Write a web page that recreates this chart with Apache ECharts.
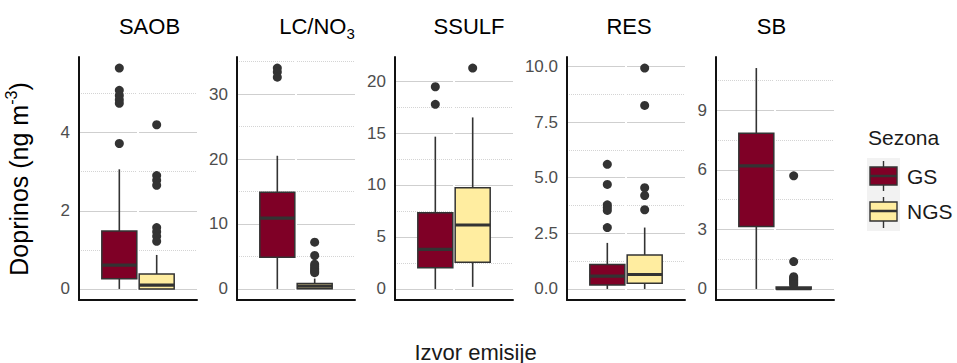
<!DOCTYPE html>
<html><head><meta charset="utf-8">
<script src="https://cdn.jsdelivr.net/npm/echarts@6/dist/echarts.min.js"></script>
<style>html,body{margin:0;padding:0;background:#fff}#c{width:957px;height:363px}</style>
</head><body><div id="c"></div>
<script>
// ---- data ----
const sources = ['SAOB', 'LC/NO3', 'SSULF', 'RES', 'SB'];
const seasons = ['GS', 'NGS'];
// [lower whisker, Q1, median, Q3, upper whisker]
const gsBox = [
  [0, 0.26, 0.61, 1.48, 3.06],
  [0, 4.87, 10.9, 14.9, 20.5],
  [0, 2.05, 3.8, 7.34, 14.65],
  [0, 0.18, 0.58, 1.1, 2.07],
  [0, 3.15, 6.2, 7.84, 11.13]
];
const ngsBox = [
  [0, 0.0, 0.1, 0.38, 0.87],
  [0, 0.05, 0.45, 0.85, 1.6],
  [0.2, 2.57, 6.15, 9.74, 16.5],
  [0, 0.26, 0.65, 1.53, 2.76],
  [0, 0, 0.02, 0.1, 0.15]
];
const gsOutliers = [
  [5.65, 5.08, 4.95, 4.84, 4.75, 3.72],
  [34.0, 33.4, 32.6],
  [19.45, 17.76],
  [5.6, 4.7, 3.78, 3.66, 3.53, 2.76],
  []
];
const ngsOutliers = [
  [4.2, 2.9, 2.78, 2.65, 1.57, 1.46, 1.35, 1.22],
  [7.2, 5.15, 3.8, 3.5, 3.2, 2.95, 2.7, 2.5],
  [21.25],
  [9.93, 8.25, 4.55, 4.2, 3.56],
  [5.7, 1.38, 0.62, 0.55, 0.48, 0.41, 0.34, 0.27, 0.2]
];
const majorTicks = [[0, 2, 4], [0, 10, 20, 30], [0, 5, 10, 15, 20], [0, 2.5, 5, 7.5, 10], [0, 3, 6, 9]];
const minorTicks = [[1, 3, 5], [5, 15, 25, 35], [2.5, 7.5, 12.5, 17.5], [1.25, 3.75, 6.25, 8.75], [1.5, 4.5, 7.5, 10.5]];
const tickDecimals = [0, 0, 0, 1, 0];

// ---- style / layout ----
const FONT = 'Liberation Sans, Arial, Helvetica, sans-serif';
const fills = ['#7F0026', '#FFEDA0'];
const lefts = [79, 237, 395, 567, 716];
const PW = 118, TOP = 57, PH = 243;
const XPOS = [0.41, 0.79];   // dodge positions on a 0..1.2 panel axis
const BOX_W = 0.356;

const chart = echarts.init(document.getElementById('c'), null, {renderer: 'svg'});

const grid = [], xAxis = [], yAxis = [], series = [];
sources.forEach((src, i) => {
  const allMax = Math.max(...gsBox[i], ...ngsBox[i], ...gsOutliers[i], ...ngsOutliers[i]);
  const allMin = 0;
  const pad = (allMax - allMin) * 0.05;
  const yMin = allMin - pad, yMax = allMax + pad;
  grid.push({left: lefts[i], top: TOP, width: PW, height: PH, containLabel: false});
  xAxis.push({
    type: 'value', gridIndex: i, min: 0, max: 1.2, interval: 0.6, z: 3,
    axisLine: {show: true, onZero: false, lineStyle: {color: '#111', width: 2}},
    axisTick: {show: false}, axisLabel: {show: false},
    splitLine: {show: true, showMinLine: false, showMaxLine: false, lineStyle: {color: '#ffffff', width: 2}}
  });
  const dec = tickDecimals[i];
  yAxis.push({
    type: 'value', gridIndex: i, min: yMin, max: yMax, z: 2,
    axisLine: {show: true, onZero: false, lineStyle: {color: '#111', width: 2}},
    axisTick: {show: false, customValues: majorTicks[i]},
    axisLabel: {customValues: majorTicks[i], color: '#4D4D4D', fontSize: 17, fontFamily: FONT, margin: 9,
      formatter: v => Number(v).toFixed(dec)},
    splitLine: {show: true, lineStyle: {color: '#cfcfcf', width: 1.2}}
  });
  yAxis.push({
    type: 'value', gridIndex: i, min: yMin, max: yMax, z: 1,
    axisLine: {show: false}, axisLabel: {show: false},
    axisTick: {show: false, customValues: minorTicks[i]},
    splitLine: {show: true, lineStyle: {color: '#d4d4d4', width: 1, type: 'dotted'}}
  });
  const boxes = [gsBox[i], ngsBox[i]].map((b, s) => [XPOS[s], ...b, s]);
  series.push({
    type: 'custom', name: src, xAxisIndex: i, yAxisIndex: 2 * i, z: 5,
    data: boxes,
    renderItem: (params, api) => {
      const x = api.value(0);
      const pLo = api.coord([x, api.value(1)]);
      const pQ1 = api.coord([x, api.value(2)]);
      const pMed = api.coord([x, api.value(3)]);
      const pQ3 = api.coord([x, api.value(4)]);
      const pHi = api.coord([x, api.value(5)]);
      const hw = api.size([BOX_W, 0])[0] / 2;
      const fill = fills[api.value(6)];
      const ls = {stroke: '#333333', lineWidth: 1.6};
      return {type: 'group', children: [
        {type: 'line', shape: {x1: pHi[0], y1: pHi[1], x2: pQ3[0], y2: pQ3[1]}, style: ls},
        {type: 'line', shape: {x1: pLo[0], y1: pLo[1], x2: pQ1[0], y2: pQ1[1]}, style: ls},
        {type: 'rect', shape: {x: pQ1[0] - hw, y: pQ3[1], width: 2 * hw, height: pQ1[1] - pQ3[1]},
          style: {fill: fill, stroke: '#333333', lineWidth: 1.5}},
        {type: 'line', shape: {x1: pMed[0] - hw, y1: pMed[1], x2: pMed[0] + hw, y2: pMed[1]},
          style: {stroke: '#333333', lineWidth: 3.2}}
      ]};
    }
  });
  [gsOutliers[i], ngsOutliers[i]].forEach((arr, s) => {
    series.push({
      type: 'scatter', name: seasons[s], xAxisIndex: i, yAxisIndex: 2 * i, z: 6,
      symbol: 'circle', symbolSize: 9, itemStyle: {color: '#333333', opacity: 1},
      data: arr.map(v => [XPOS[s], v]), silent: true
    });
  });
});

const stripX = [149.5, 317, 469, 629, 771.5];
const stripLabels = ['{m|SAOB}', '{m|LC/NO}{s|3}', '{m|SSULF}', '{m|RES}', '{m|SB}'];
const richTitle = {
  m: {fontSize: 22, fontFamily: FONT, color: '#1a1a1a', lineHeight: 26},
  s: {fontSize: 15, fontFamily: FONT, color: '#1a1a1a', lineHeight: 26, verticalAlign: 'bottom', padding: [0, 0, -2, 0]}
};
const graphic = [];
stripLabels.forEach((t, i) => {
  graphic.push({type: 'text', x: stripX[i], y: 26, style: {text: t, rich: richTitle, align: 'center', verticalAlign: 'middle'}});
});
graphic.push({type: 'text', x: 475.5, y: 352, style: {text: 'Izvor emisije', fontSize: 22, fontFamily: FONT, fill: '#1a1a1a', align: 'center', verticalAlign: 'middle'}});
graphic.push({type: 'text', x: 19, y: 179, rotation: Math.PI / 2,
  style: {text: '{m|Doprinos (ng m}{s|-3}{m|)}', align: 'center', verticalAlign: 'middle',
    rich: {m: {fontSize: 25, fontFamily: FONT, color: '#1a1a1a', lineHeight: 29},
           s: {fontSize: 16, fontFamily: FONT, color: '#1a1a1a', lineHeight: 29, verticalAlign: 'top', padding: [-1, 0, 0, 0]}}}});
// legend
graphic.push({type: 'text', x: 868, y: 137.5, style: {text: 'Sezona', fontSize: 21, fontFamily: FONT, fill: '#1a1a1a', verticalAlign: 'middle'}});
graphic.push({type: 'rect', shape: {x: 867, y: 158, width: 33, height: 73}, style: {fill: '#F2F2F2'}});
const keyY = [[161, 167, 176, 185, 191], [197, 202, 211, 221, 228]];
seasons.forEach((s, k) => {
  const [w0, b0, m, b1, w1] = keyY[k];
  graphic.push({type: 'line', shape: {x1: 883.5, y1: w0, x2: 883.5, y2: w1}, style: {stroke: '#333333', lineWidth: 1.4}});
  graphic.push({type: 'rect', shape: {x: 870, y: b0, width: 27, height: b1 - b0}, style: {fill: fills[k], stroke: '#333333', lineWidth: 1.4}});
  graphic.push({type: 'line', shape: {x1: 870, y1: m, x2: 897, y2: m}, style: {stroke: '#333333', lineWidth: 2.5}});
  graphic.push({type: 'text', x: 907, y: (b0 + b1) / 2, style: {text: s, fontSize: 21, fontFamily: FONT, fill: '#1a1a1a', verticalAlign: 'middle'}});
});

chart.setOption({
  animation: false,
  backgroundColor: '#ffffff',
  grid, xAxis, yAxis, series, graphic
});
</script></body></html>
